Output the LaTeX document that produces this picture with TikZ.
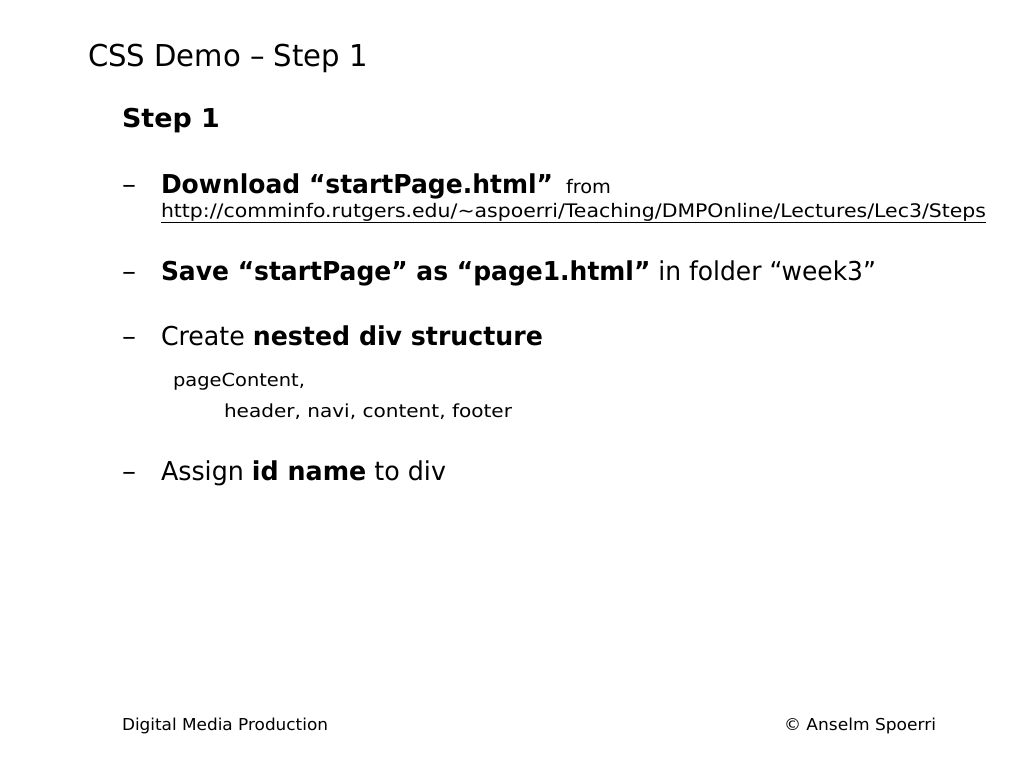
\documentclass[tikz,border=0pt]{standalone}
\usepackage{fontspec}
\setmainfont{DejaVu Sans}
\usepackage{graphicx}
\usepackage{tikz}

\newlength\pxu
\setlength\pxu{0.75pt}
\newcommand\fitw[2]{\resizebox{#1\pxu}{\height}{#2}}

\begin{document}
\begin{tikzpicture}[x=0.75pt, y=-0.75pt,
    txt/.style={anchor=base west, inner sep=0pt, outer sep=0pt},
    big/.style={txt, font=\fontsize{22.6}{27}\selectfont},
    main/.style={txt, font=\fontsize{19.5}{23}\selectfont},
    small/.style={txt, font=\fontsize{14}{17}\selectfont},
    sub/.style={txt, font=\fontsize{13.5}{16}\selectfont},
    foot/.style={txt, font=\fontsize{12.3}{15}\selectfont}]
            \useasboundingbox (0,0) rectangle (1024,768);

            \node[big] (title) at (88,66) {\fitw{280}{CSS Demo – Step 1}};
            \node[main] (step) at (122,127) {\fitw{98}{\bfseries Step 1}};

            \node[main] (dash1) at (122,193) {\fitw{14}{–}};
            \node[main] (download) at (161,193) {\fitw{392}{\bfseries Download “startPage.html”}};
            \node[small] (from) at (566,193) {\fitw{45}{from}};
            \node[small] (url) at (161,217) {\fitw{825}{\underline{http://comminfo.rutgers.edu/\textasciitilde aspoerri/Teaching/DMPOnline/Lectures/Lec3/Steps}}};

            \node[main] (dash2) at (122,280) {\fitw{14}{–}};
            \node[main] (save) at (161,280) {\fitw{715}{\textbf{Save “startPage” as “page1.html”} in folder “week3”}};

            \node[main] (dash3) at (122,345) {\fitw{14}{–}};
            \node[main] (create) at (161,345) {\fitw{382}{Create \textbf{nested div structure}}};
            \node[sub] (pagecontent) at (173,386) {\fitw{132}{pageContent,}};
            \node[sub] (divs) at (224,417) {\fitw{288}{header, navi, content, footer}};

            \node[main] (dash4) at (122,480) {\fitw{14}{–}};
            \node[main] (assign) at (161,480) {\fitw{285}{Assign \textbf{id name} to div}};

            \node[foot] (course) at (122,730) {\fitw{206}{Digital Media Production}};
            \node[foot] (author) at (784,730) {\fitw{152}{© Anselm Spoerri}};
            \end{tikzpicture}
\end{document}
